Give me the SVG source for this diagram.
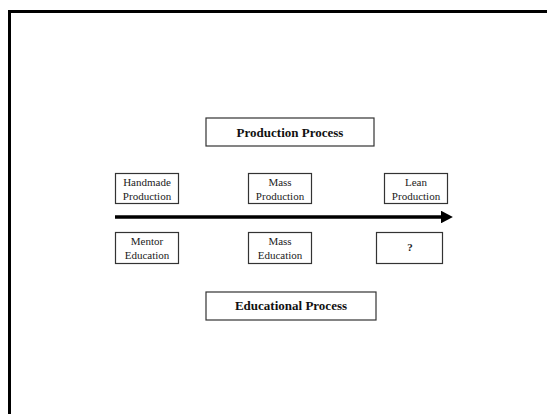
<svg xmlns="http://www.w3.org/2000/svg" width="547" height="414" viewBox="0 0 547 414">
<style>
.box{fill:#fff;stroke:#333;stroke-width:1.2}
.t{font-family:"Liberation Serif",serif;font-size:11px;fill:#222;text-anchor:middle}
.h{font-family:"Liberation Serif",serif;font-size:13px;font-weight:bold;fill:#111;text-anchor:middle}
</style>
<defs>
<marker id="ah" markerWidth="3.4" markerHeight="3.6" refX="0" refY="1.8" orient="auto" markerUnits="strokeWidth">
<path d="M0,0 L3.4,1.8 L0,3.6 Z" fill="#000"/>
</marker>
</defs>
<rect width="547" height="414" fill="#fff"/>
<path d="M9.5,414 V11.5 H547" fill="none" stroke="#000" stroke-width="3"/>
<g id="connectors">
<line x1="115" y1="217" x2="441" y2="217" stroke="#000" stroke-width="3.5" marker-end="url(#ah)"/>
</g>
<g id="production-process">
<rect class="box" x="206" y="118" width="168" height="28"/>
<text class="h" x="290" y="137">Production Process</text>
</g>
<g id="handmade-production">
<rect class="box" x="115.5" y="173.5" width="63" height="30"/>
<text class="t" x="147" y="186">Handmade</text>
<text class="t" x="147" y="200">Production</text>
</g>
<g id="mass-production">
<rect class="box" x="248.5" y="173.5" width="63" height="30"/>
<text class="t" x="280" y="186">Mass</text>
<text class="t" x="280" y="200">Production</text>
</g>
<g id="lean-production">
<rect class="box" x="384.5" y="173.5" width="63" height="30"/>
<text class="t" x="416" y="186">Lean</text>
<text class="t" x="416" y="200">Production</text>
</g>
<g id="mentor-education">
<rect class="box" x="115.5" y="232.5" width="63" height="31"/>
<text class="t" x="147" y="245">Mentor</text>
<text class="t" x="147" y="259">Education</text>
</g>
<g id="mass-education">
<rect class="box" x="248.5" y="232.5" width="63" height="31"/>
<text class="t" x="280" y="245">Mass</text>
<text class="t" x="280" y="259">Education</text>
</g>
<g id="unknown">
<rect class="box" x="376.5" y="232.5" width="66" height="31"/>
<text class="t" x="410" y="251" font-weight="bold">?</text>
</g>
<g id="educational-process">
<rect class="box" x="206" y="292" width="170" height="28"/>
<text class="h" x="291" y="310">Educational Process</text>
</g>
</svg>
